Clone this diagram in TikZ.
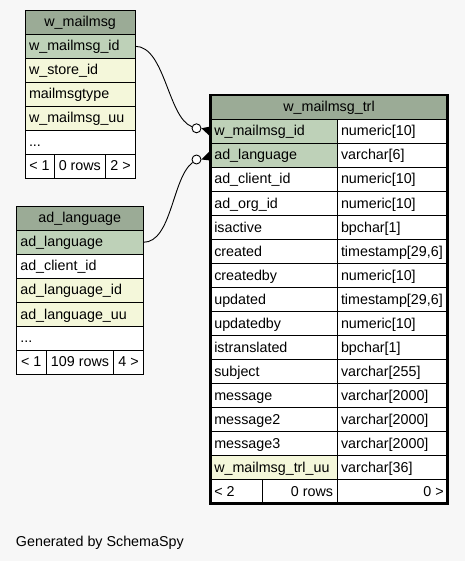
\documentclass[tikz,border=0pt]{standalone}
\usepackage{fontspec}
\setmainfont{Liberation Sans}
\usetikzlibrary{calc}
\definecolor{bg}{HTML}{F7F7F7}
\definecolor{hdr}{HTML}{9BAB96}
\definecolor{pk}{HTML}{BED1B8}
\definecolor{idx}{HTML}{F4F7DA}
\tikzset{
 tcell/.style={draw=black, line width=0.8pt, inner sep=0pt, outer sep=0pt, rectangle},
 ttext/.style={font=\fontsize{14.3}{16}\selectfont, inner sep=0pt, outer sep=0pt, text=black},
 odot/.style={circle, draw=black, fill=white, line width=0.9pt, minimum size=9pt, inner sep=0pt},
 rel/.style={draw=black, line width=0.9pt},
}
\newcommand\mkcell[6]{\node[tcell, fill=#6, minimum width={((#4)-(#2))*1pt}, minimum height={((#5)-(#3))*1pt}] (#1) at ({((#2)+(#4))/2},{((#3)+(#5))/2}) {};}
\newcommand\cellL[7]{\mkcell{#1}{#2}{#3}{#4}{#5}{#6}\node[ttext, anchor=base west] (#1t) at ({(#2)+4},{((#3)+(#5))/2+4.5}) {#7};}
\newcommand\cellC[7]{\mkcell{#1}{#2}{#3}{#4}{#5}{#6}\node[ttext, anchor=base] (#1t) at ({((#2)+(#4))/2},{((#3)+(#5))/2+4.5}) {#7};}
\newcommand\cellR[7]{\mkcell{#1}{#2}{#3}{#4}{#5}{#6}\node[ttext, anchor=base east] (#1t) at ({(#4)-4},{((#3)+(#5))/2+4.5}) {#7};}
\newcommand\mrow[4]{\cellL{m#1a}{210.3}{(119.5+24*#1)}{337}{(143.5+24*#1)}{#4}{#2}\cellL{m#1b}{337}{(119.5+24*#1)}{447.7}{(143.5+24*#1)}{white}{#3}}
\begin{document}
\begin{tikzpicture}[x=1pt,y=-1pt]
\fill[bg] (0,0) rectangle (465,561);
\useasboundingbox (0,0) rectangle (465,561);
% w_mailmsg
\cellC{wh}{25}{10.5}{135.3}{34.3}{hdr}{w\_mailmsg}
\cellL{w1}{25}{34.3}{135.3}{58.3}{pk}{w\_mailmsg\_id}
\cellL{w2}{25}{58.3}{135.3}{82.3}{idx}{w\_store\_id}
\cellL{w3}{25}{82.3}{135.3}{106.5}{idx}{mailmsgtype}
\cellL{w4}{25}{106.5}{135.3}{130.5}{idx}{w\_mailmsg\_uu}
\cellL{w5}{25}{130.5}{135.3}{154.3}{white}{...}
\cellC{wfa}{25}{154.3}{54}{178.3}{white}{< 1}
\cellC{wfb}{54}{154.3}{105.7}{178.3}{white}{0 rows}
\cellC{wfc}{105.7}{154.3}{135.3}{178.3}{white}{2 >}
% ad_language
\cellC{ah}{16.3}{206.5}{143.3}{230.3}{hdr}{ad\_language}
\cellL{a1}{16.3}{230.3}{143.3}{254.3}{pk}{ad\_language}
\cellL{a2}{16.3}{254.3}{143.3}{278.3}{white}{ad\_client\_id}
\cellL{a3}{16.3}{278.3}{143.3}{302.5}{idx}{ad\_language\_id}
\cellL{a4}{16.3}{302.5}{143.3}{326.5}{idx}{ad\_language\_uu}
\cellL{a5}{16.3}{326.5}{143.3}{350.3}{white}{...}
\cellC{afa}{16.3}{350.3}{46.3}{374.3}{white}{< 1}
\cellC{afb}{46.3}{350.3}{113.7}{374.3}{white}{109 rows}
\cellC{afc}{113.7}{350.3}{143.3}{374.3}{white}{4 >}
% w_mailmsg_trl
\cellC{mh}{210.3}{95}{447.7}{119.5}{hdr}{w\_mailmsg\_trl}
\mrow{0}{w\_mailmsg\_id}{numeric[10]}{pk}
\mrow{1}{ad\_language}{varchar[6]}{pk}
\mrow{2}{ad\_client\_id}{numeric[10]}{white}
\mrow{3}{ad\_org\_id}{numeric[10]}{white}
\mrow{4}{isactive}{bpchar[1]}{white}
\mrow{5}{created}{timestamp[29,6]}{white}
\mrow{6}{createdby}{numeric[10]}{white}
\mrow{7}{updated}{timestamp[29,6]}{white}
\mrow{8}{updatedby}{numeric[10]}{white}
\mrow{9}{istranslated}{bpchar[1]}{white}
\mrow{10}{subject}{varchar[255]}{white}
\mrow{11}{message}{varchar[2000]}{white}
\mrow{12}{message2}{varchar[2000]}{white}
\mrow{13}{message3}{varchar[2000]}{white}
\mrow{14}{w\_mailmsg\_trl\_uu}{varchar[36]}{idx}
\cellL{mfa}{210.3}{479.5}{262}{503.5}{white}{< 2}
\cellR{mfb}{262}{479.5}{337}{503.5}{white}{0 rows}
\cellR{mfc}{337}{479.5}{447.7}{503.5}{white}{0 >}
\draw[line width=2.8pt] (mh.north west) rectangle (mfc.south east);
% relationships
\node[odot] (c1) at (196.5,128.3) {};
\node[odot] (c2) at (196.5,159.5) {};
\draw[rel] (w1.east) .. controls (165,46.3) and (168,118) .. (c1);
\draw[rel] (a1.east) .. controls (172,242.3) and (172,178) .. (c2);
\fill (c1.east) -- ($(m0a.west)+(0,-5)$) -- ($(m0a.west)+(0,5)$) -- cycle;
\fill (c2.east) -- ($(m1a.west)+(0,-5)$) -- ($(m1a.west)+(0,5)$) -- cycle;
\node[ttext, anchor=base west] (gen) at (16,546.5) {Generated by SchemaSpy};
\end{tikzpicture}
\end{document}
